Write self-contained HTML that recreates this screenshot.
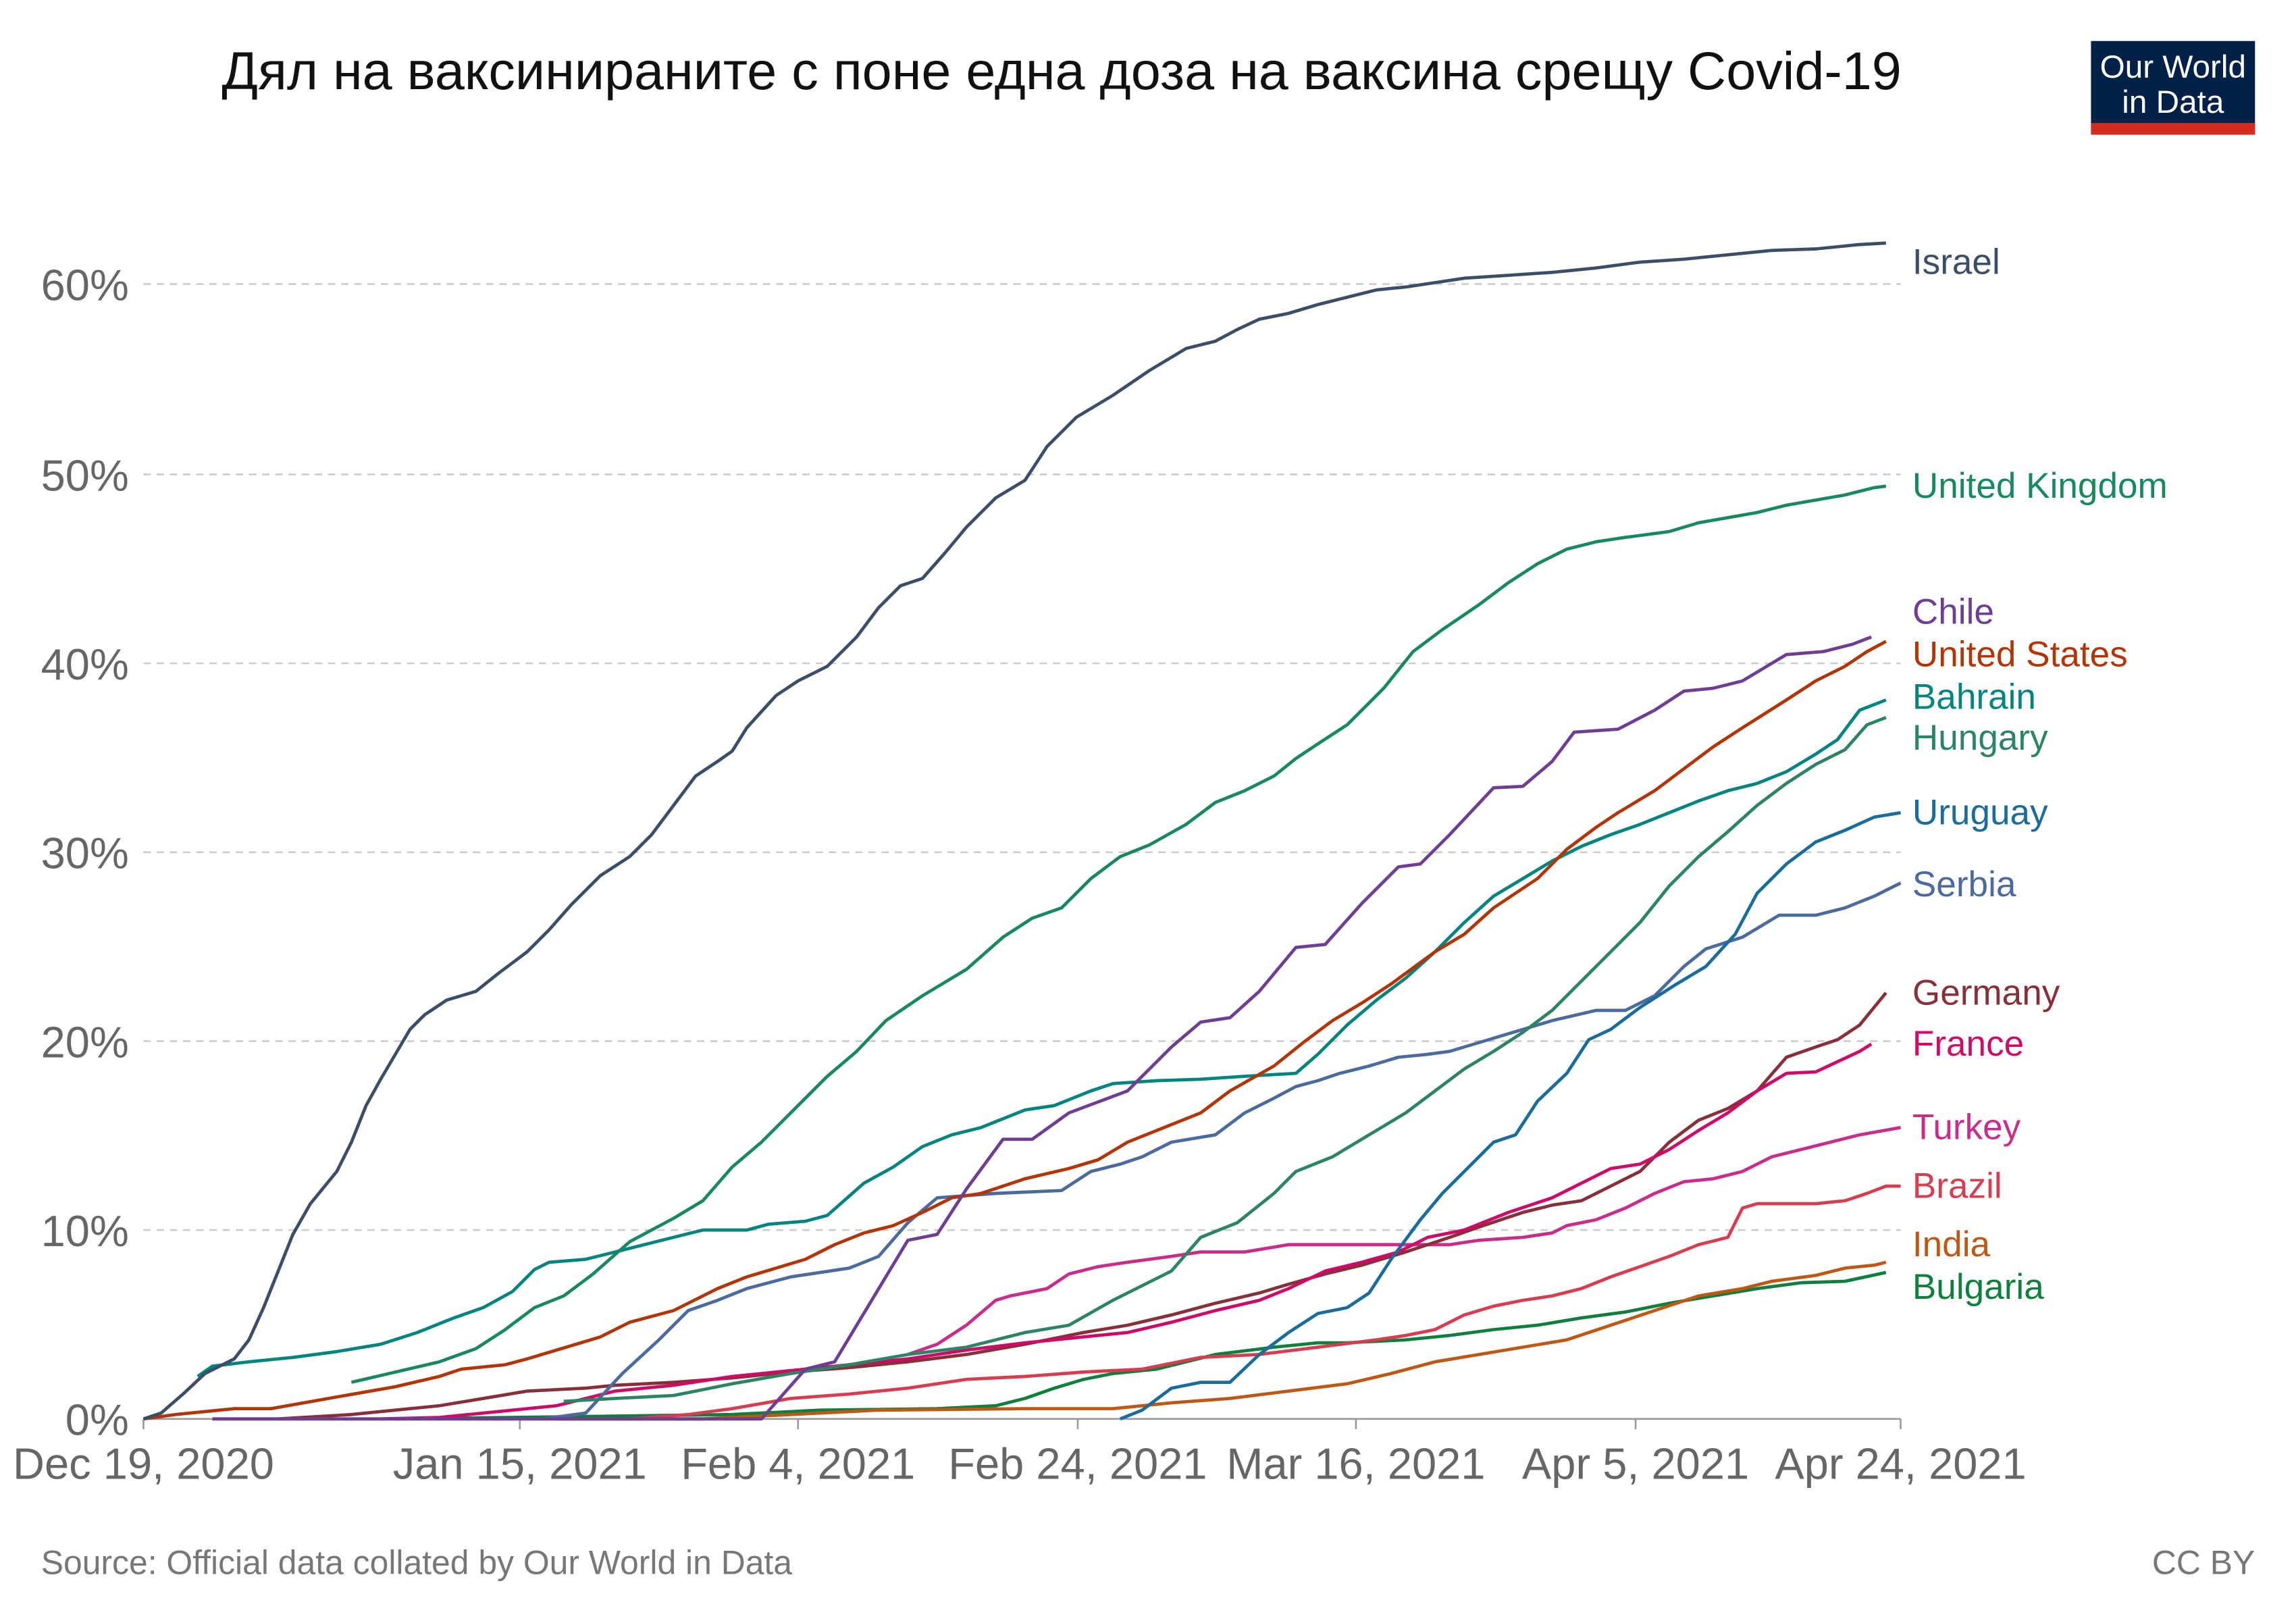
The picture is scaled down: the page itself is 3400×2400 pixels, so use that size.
<!DOCTYPE html>
<html><head><meta charset="utf-8"><style>
html,body{margin:0;padding:0;background:#fff;}
svg{display:block;}
text{font-family:"Liberation Sans","DejaVu Sans",sans-serif;}
</style></head><body>
<svg width="3400" height="2400" viewBox="0 0 1568 1107" preserveAspectRatio="none" xmlns="http://www.w3.org/2000/svg">
<rect width="1568" height="1107" fill="#fff"/>
<text x="725" y="61" text-anchor="middle" font-size="36.5" fill="#111">Дял на ваксинираните с поне една доза на ваксина срещу Covid-19</text>
<rect x="1428" y="28" width="112" height="64" fill="#002147"/>
<rect x="1428" y="84" width="112" height="8" fill="#d42b21"/>
<text x="1484" y="53" text-anchor="middle" font-size="22" fill="#fff">Our World</text>
<text x="1484" y="77" text-anchor="middle" font-size="22" fill="#fff">in Data</text>
<g stroke="#ccc" stroke-dasharray="5,4" stroke-width="1.2">
<line x1="98" x2="1298" y1="840" y2="840"/><line x1="98" x2="1298" y1="711" y2="711"/><line x1="98" x2="1298" y1="582" y2="582"/><line x1="98" x2="1298" y1="453" y2="453"/><line x1="98" x2="1298" y1="324" y2="324"/><line x1="98" x2="1298" y1="194" y2="194"/>
</g>
<line x1="98" x2="1298" y1="969" y2="969" stroke="#999" stroke-width="1.2"/>
<g stroke="#999" stroke-width="1.2">
<line x1="98" x2="98" y1="969" y2="976"/><line x1="355" x2="355" y1="969" y2="976"/><line x1="545" x2="545" y1="969" y2="976"/><line x1="736" x2="736" y1="969" y2="976"/><line x1="926" x2="926" y1="969" y2="976"/><line x1="1117" x2="1117" y1="969" y2="976"/><line x1="1298" x2="1298" y1="969" y2="976"/>
</g>
<g font-size="30" fill="#666" text-anchor="end">
<text x="88" y="980">0%</text><text x="88" y="851">10%</text><text x="88" y="722">20%</text><text x="88" y="593">30%</text><text x="88" y="464">40%</text><text x="88" y="335">50%</text><text x="88" y="205">60%</text>
</g>
<g font-size="30" fill="#666" text-anchor="middle">
<text x="98" y="1010">Dec 19, 2020</text><text x="355" y="1010">Jan 15, 2021</text><text x="545" y="1010">Feb 4, 2021</text><text x="736" y="1010">Feb 24, 2021</text><text x="926" y="1010">Mar 16, 2021</text><text x="1117" y="1010">Apr 5, 2021</text><text x="1298" y="1010">Apr 24, 2021</text>
</g>
<text x="28" y="1075" font-size="23" fill="#777">Source: Official data collated by Our World in Data</text>
<text x="1540" y="1075" font-size="23" fill="#777" text-anchor="end">CC BY</text>
<g fill="none" stroke-width="2.2" stroke-linejoin="round">
<polyline stroke="#0f7f3d" points="270,969 500,966 560,963 640,962 680,960 700,955 720,948 740,942 760,938 790,935 830,925 870,920 900,917 920,917 960,915 990,912 1020,908 1050,905 1080,900 1110,896 1140,890 1170,885 1200,880 1230,876 1260,875 1288,869"/>
<polyline stroke="#be5915" points="380,969 480,969 560,965 600,963 700,962 760,962 800,958 840,955 880,950 920,945 950,938 980,930 1010,925 1040,920 1070,915 1100,905 1130,895 1160,885 1190,880 1210,875 1240,871 1260,866 1280,864 1288,862"/>
<polyline stroke="#d73c50" points="430,969 470,966 500,962 540,955 580,952 620,948 660,942 700,940 740,937 780,935 820,927 860,925 900,920 940,915 960,912 980,908 1000,898 1020,892 1040,888 1060,885 1080,880 1100,872 1120,865 1140,858 1160,850 1180,845 1190,825 1200,822 1240,822 1260,820 1275,815 1288,810 1298,810"/>
<polyline stroke="#c82d8a" points="620,925 640,918 660,905 680,888 690,885 700,883 715,880 730,870 750,865 770,862 800,858 820,855 850,855 880,850 920,850 990,850 1010,847 1040,845 1060,842 1070,837 1090,833 1110,825 1130,815 1150,807 1170,805 1190,800 1210,790 1230,785 1250,780 1270,775 1298,770"/>
<polyline stroke="#883039" points="190,969 240,966 270,963 300,960 330,955 360,950 400,948 420,946 460,944 500,941 540,937 580,934 620,930 660,925 700,918 740,910 770,905 800,898 830,890 860,883 880,877 905,870 930,864 960,855 990,845 1010,838 1040,828 1060,823 1080,820 1100,810 1120,800 1140,780 1160,765 1180,757 1200,745 1220,722 1240,715 1255,710 1270,700 1288,678"/>
<polyline stroke="#cf0a66" points="260,969 300,968 340,964 380,960 420,950 460,946 500,940 540,936 580,932 620,928 660,922 700,917 740,913 770,910 800,903 830,895 860,888 880,880 905,868 930,862 955,855 975,845 1000,840 1030,828 1060,818 1080,808 1100,798 1120,795 1140,785 1160,772 1180,760 1200,745 1220,733 1240,732 1255,725 1270,718 1278,713"/>
<polyline stroke="#4c6a9c" points="370,969 400,965 425,938 450,915 470,895 490,888 510,880 540,872 580,866 600,858 620,835 640,818 680,815 725,813 745,800 765,795 780,790 800,780 830,775 850,760 870,750 885,742 900,738 915,733 935,728 955,722 975,720 990,718 1010,712 1040,703 1060,697 1090,690 1110,690 1130,680 1150,660 1165,648 1190,640 1215,625 1240,625 1260,620 1280,612 1298,603"/>
<polyline stroke="#1a6d9a" points="765,969 780,963 800,948 820,944 840,944 860,925 880,910 900,897 920,893 935,883 950,860 970,833 985,815 1000,800 1020,780 1035,775 1050,752 1070,733 1085,710 1100,703 1120,688 1145,672 1165,660 1185,638 1200,610 1220,590 1240,575 1260,567 1280,558 1298,555"/>
<polyline stroke="#2c8465" points="385,957 420,955 460,953 500,945 540,938 580,932 620,925 660,920 700,910 730,905 760,888 780,878 800,868 820,845 845,835 870,815 885,800 910,790 935,775 960,760 980,745 1000,730 1020,718 1040,705 1060,690 1075,675 1100,650 1120,630 1140,605 1160,585 1180,568 1200,550 1220,535 1240,522 1260,512 1275,495 1288,490"/>
<polyline stroke="#00847e" points="135,940 145,933 170,930 200,927 230,923 260,918 285,910 310,900 330,893 350,882 365,867 375,862 400,860 420,855 440,850 460,845 480,840 510,840 525,836 550,834 565,830 590,808 610,797 630,783 650,775 670,770 700,758 720,755 745,745 760,740 790,738 820,737 850,735 885,733 900,720 920,700 940,683 960,668 980,650 1000,630 1020,612 1040,600 1060,588 1080,578 1100,570 1120,563 1140,555 1160,547 1180,540 1200,535 1220,527 1240,515 1255,505 1270,485 1288,478"/>
<polyline stroke="#b13507" points="98,969 120,966 160,962 185,962 230,954 270,947 300,940 315,935 345,932 360,928 380,922 410,913 430,903 460,895 490,880 510,872 530,866 550,860 570,850 590,842 610,837 630,828 650,818 670,815 700,805 730,798 750,792 770,780 795,770 820,760 840,745 870,728 890,712 910,697 930,685 950,672 980,650 1000,638 1020,620 1050,600 1070,580 1090,565 1105,555 1130,540 1150,525 1170,510 1190,497 1220,478 1240,465 1260,455 1275,445 1288,438"/>
<polyline stroke="#6d3e91" points="145,969 520,969 550,935 570,930 620,847 640,843 660,812 685,778 705,778 730,760 770,745 800,715 820,698 840,695 860,677 885,647 905,645 930,617 955,592 970,590 990,570 1020,538 1040,537 1060,520 1075,500 1105,498 1130,485 1150,472 1170,470 1190,465 1220,447 1245,445 1265,440 1278,435"/>
<polyline stroke="#18895e" points="240,944 270,937 300,930 325,921 345,908 365,893 385,885 405,870 430,848 460,832 480,820 500,797 520,780 545,755 565,735 585,718 605,697 630,680 660,662 685,640 705,627 725,620 745,600 765,585 785,577 810,563 830,548 850,540 870,530 885,518 900,508 920,495 945,470 965,445 985,430 1010,413 1030,398 1050,385 1070,375 1090,370 1110,367 1140,363 1160,357 1200,350 1220,345 1260,338 1280,333 1288,332"/>
<polyline stroke="#3c4e66" points="98,969 110,965 125,952 140,938 160,928 170,915 180,893 190,868 200,843 212,822 230,800 240,780 250,755 260,737 270,720 280,703 290,693 305,683 325,677 340,665 360,650 375,635 390,618 410,598 430,585 445,570 460,550 475,530 490,520 500,513 510,497 530,475 545,465 565,455 585,435 600,415 615,400 630,395 645,378 660,360 680,340 700,328 715,305 735,285 760,270 785,253 810,238 830,233 845,225 860,218 880,214 900,208 920,203 940,198 960,196 980,193 1000,190 1030,188 1060,186 1090,183 1120,179 1150,177 1180,174 1210,171 1240,170 1270,167 1288,166"/>
</g>
<g font-size="24.5">
<text x="1306" y="187" fill="#3c4e66">Israel</text>
<text x="1306" y="340" fill="#18895e">United Kingdom</text>
<text x="1306" y="426" fill="#6d3e91">Chile</text>
<text x="1306" y="455" fill="#b13507">United States</text>
<text x="1306" y="484" fill="#00847e">Bahrain</text>
<text x="1306" y="512" fill="#2c8465">Hungary</text>
<text x="1306" y="563" fill="#1a6d9a">Uruguay</text>
<text x="1306" y="612" fill="#4c6a9c">Serbia</text>
<text x="1306" y="686" fill="#883039">Germany</text>
<text x="1306" y="721" fill="#cf0a66">France</text>
<text x="1306" y="778" fill="#c82d8a">Turkey</text>
<text x="1306" y="818" fill="#d73c50">Brazil</text>
<text x="1306" y="858" fill="#be5915">India</text>
<text x="1306" y="887" fill="#0f7f3d">Bulgaria</text>
</g>
</svg>
</body></html>
